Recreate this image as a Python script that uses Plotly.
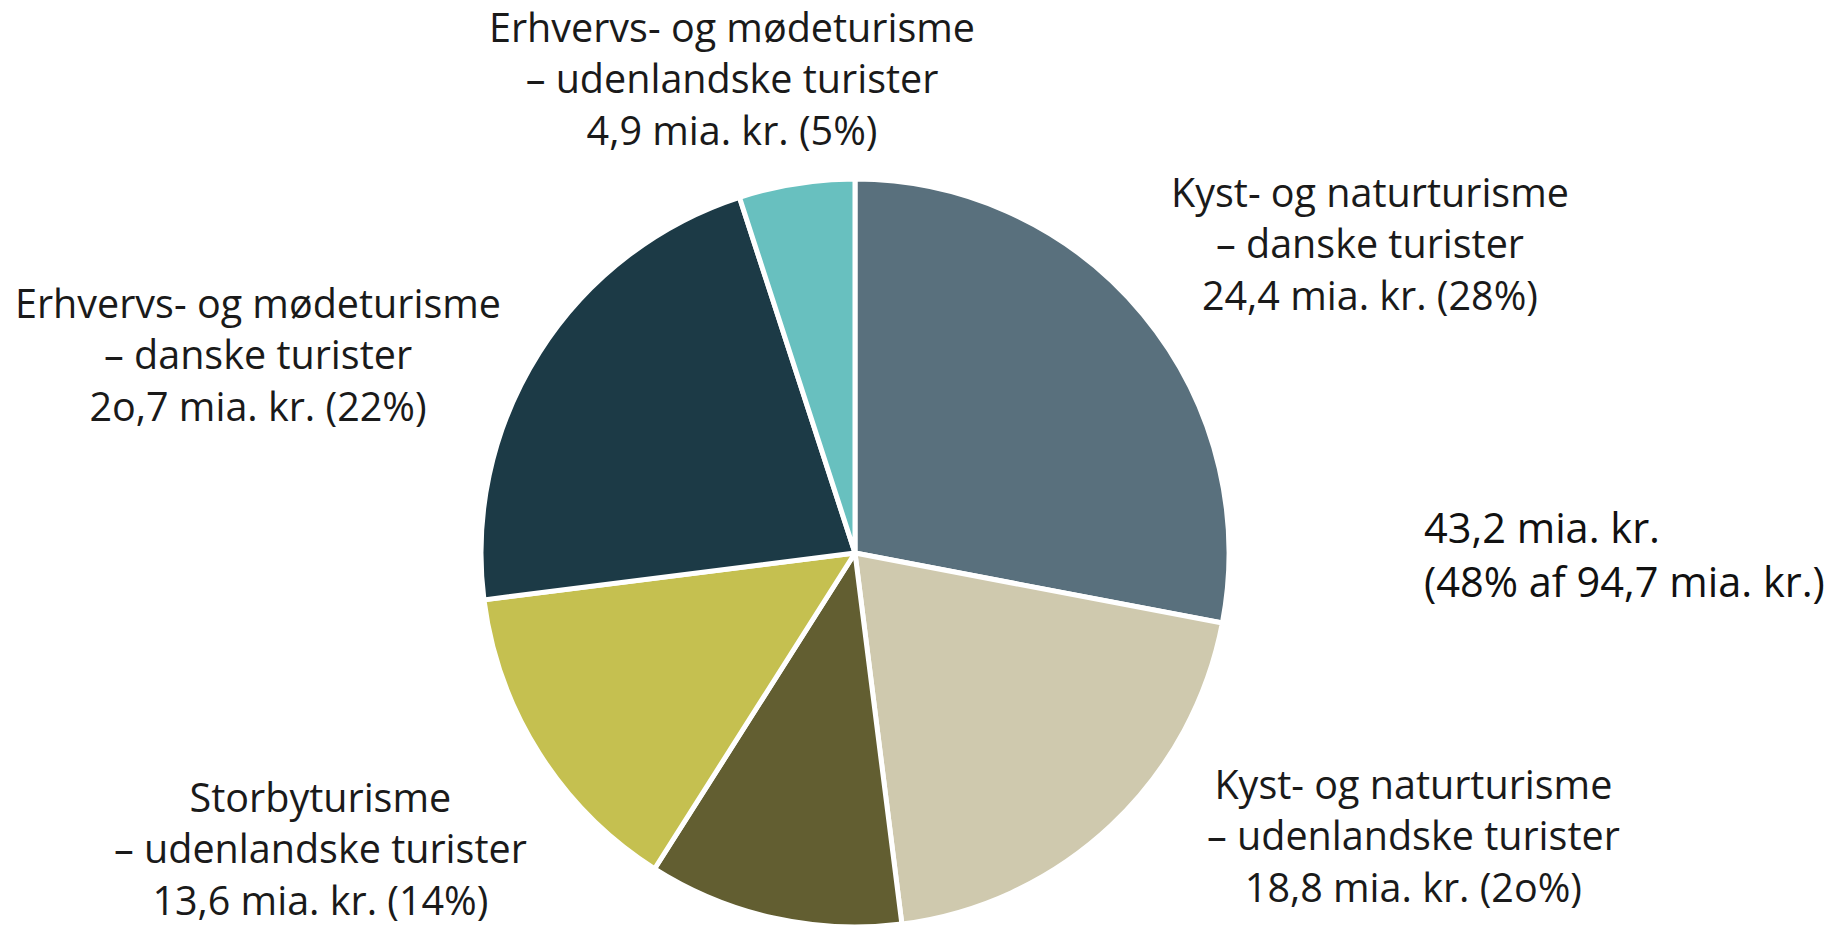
import plotly.graph_objects as go

W, H = 1841, 927

# Data (pie drawn with the shares shown in the picture)
segments = [
    "Kyst- og naturturisme – danske turister",
    "Kyst- og naturturisme – udenlandske turister",
    "Storbyturisme – danske turister",
    "Storbyturisme – udenlandske turister",
    "Erhvervs- og mødeturisme – danske turister",
    "Erhvervs- og mødeturisme – udenlandske turister",
]
shares_pct = [28, 20, 11, 14, 22, 5]
amounts = ["24,4", "18,8", "", "13,6", "20,7", "4,9"]
colors = ["#59707d", "#cfc9ae", "#625e31", "#c5c050", "#1c3a46", "#68c0bf"]

label_lines = [
    ["Kyst- og naturturisme", "– danske turister", "24,4 mia. kr. (28%)"],
    ["Kyst- og naturturisme", "– udenlandske turister", "18,8 mia. kr. (2o%)"],
    None,
    ["Storbyturisme", "– udenlandske turister", "13,6 mia. kr. (14%)"],
    ["Erhvervs- og mødeturisme", "– danske turister", "2o,7 mia. kr. (22%)"],
    ["Erhvervs- og mødeturisme", "– udenlandske turister", "4,9 mia. kr. (5%)"],
]
# label block centre (x, y) in pixels
label_pos = [
    (1370, 243),
    (1413, 835),
    None,
    (320, 848),
    (258, 355),
    (732, 78),
]
summary_lines = ["43,2 mia. kr.", "(48% af 94,7 mia. kr.)"]

def px_x(x):
    return x / W

def px_y(y):
    return 1 - y / H

fig = go.Figure(go.Pie(
    labels=segments,
    values=shares_pct,
    sort=False,
    direction="clockwise",
    rotation=0,
    marker=dict(colors=colors, line=dict(color="white", width=5)),
    textinfo="none",
    hoverinfo="label+value",
    showlegend=False,
    domain=dict(x=[px_x(481), px_x(1229)], y=[0, px_y(179)]),
))

annotations = []
label_font = dict(family="'Open Sans', sans-serif", size=39.5, color="#1a1a1a")
for lines, pos in zip(label_lines, label_pos):
    if lines is None:
        continue
    cx, cy = pos
    annotations.append(dict(
        x=px_x(cx), y=px_y(cy), xref="paper", yref="paper",
        text="<br>".join(lines), showarrow=False, xanchor="center", yanchor="middle",
        align="center", font=label_font, borderpad=0,
    ))
annotations.append(dict(
    x=px_x(1423), y=px_y(554), xref="paper", yref="paper",
    text="<br>".join(summary_lines), showarrow=False, xanchor="left", yanchor="middle",
    align="left", borderpad=0,
    font=dict(family="'Open Sans', sans-serif", size=41.5, color="#111111"),
))

fig.update_layout(
    width=W, height=H,
    margin=dict(l=0, r=0, t=0, b=0),
    paper_bgcolor="white",
    plot_bgcolor="white",
    annotations=annotations,
)

fig.write_html("out.html", config={"displayModeBar": False},
               post_script="document.body.style.margin='0';document.body.style.overflow='hidden';")
